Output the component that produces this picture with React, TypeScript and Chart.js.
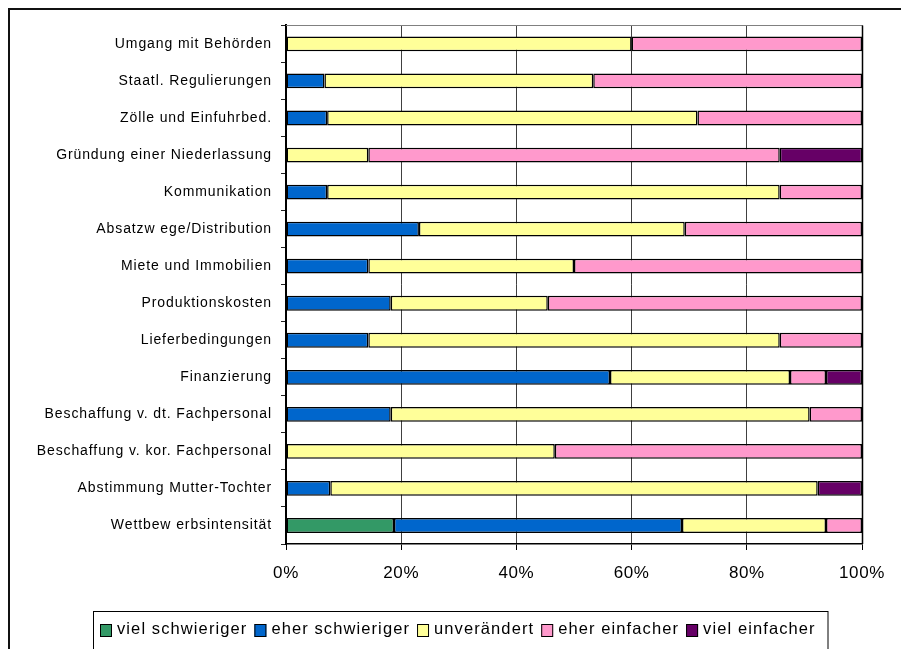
import React, { useEffect, useRef } from "react";
import { Chart, registerables } from "chart.js";

Chart.register(...registerables);

const categories = [
  "Umgang mit Behörden",
  "Staatl. Regulierungen",
  "Zölle und Einfuhrbed.",
  "Gründung einer Niederlassung",
  "Kommunikation",
  "Absatzw ege/Distribution",
  "Miete und Immobilien",
  "Produktionskosten",
  "Lieferbedingungen",
  "Finanzierung",
  "Beschaffung v. dt. Fachpersonal",
  "Beschaffung v. kor. Fachpersonal",
  "Abstimmung Mutter-Tochter",
  "Wettbew erbsintensität",
];

const vielSchwieriger = [0, 0, 0, 0, 0, 0, 0, 0, 0, 0, 0, 0, 0, 18.75];
const eherSchwieriger = [0, 6.67, 7.14, 0, 7.14, 23.08, 14.29, 18.18, 14.29, 56.25, 18.18, 0, 7.69, 50];
const unveraendert = [60, 46.67, 64.29, 14.29, 78.57, 46.15, 35.71, 27.27, 71.43, 31.25, 72.73, 46.67, 84.62, 25];
const eherEinfacher = [40, 46.67, 28.57, 71.43, 14.29, 30.77, 50, 54.55, 14.29, 6.25, 9.09, 53.33, 0, 6.25];
const vielEinfacher = [0, 0, 0, 14.29, 0, 0, 0, 0, 0, 6.25, 0, 0, 7.69, 0];

const seriesLabels = ["viel schwieriger", "eher schwieriger", "unverändert", "eher einfacher", "viel einfacher"];
const seriesColors = ["#339966", "#0066CC", "#FFFF99", "#FF99CC", "#660066"];
const xTicks = [0, 20, 40, 60, 80, 100];

const FONT = "'Liberation Sans', Arial, sans-serif";
const Y_SPACING = "0.9px";
const X_SPACING = "0.6px";
const LEGEND_SPACING = "1.1px";

const spacingPlugin = {
  id: "spacing",
  beforeUpdate(chart: any) {
    chart.ctx.letterSpacing = Y_SPACING;
  },
  afterLayout(chart: any) {
    const patch = (scale: any, sp: string) => {
      if (!scale || scale.__patched) return;
      const orig = scale.drawLabels;
      scale.drawLabels = function (area: any) {
        const ctx = this.ctx;
        const prev = ctx.letterSpacing;
        ctx.letterSpacing = sp;
        orig.call(this, area);
        ctx.letterSpacing = prev;
      };
      scale.__patched = true;
    };
    patch(chart.scales.x, X_SPACING);
    patch(chart.scales.y, Y_SPACING);
  },
  beforeDraw(chart: any) {
    const ctx = chart.ctx;
    ctx.save();
    ctx.fillStyle = "#fff";
    ctx.fillRect(0, 0, chart.width, chart.height);
    ctx.restore();
  },
};

const framePlugin = {
  id: "frame",
  afterDraw(chart: any) {
    const ctx = chart.ctx;
    const a = chart.chartArea;
    ctx.save();
    // outer chart border
    ctx.fillStyle = "#111";
    ctx.fillRect(0, 0, chart.width, 2);
    ctx.fillRect(0, 0, 2, chart.height);
    // plot area top / right border
    ctx.lineWidth = 1;
    ctx.strokeStyle = "#808080";
    ctx.beginPath();
    ctx.moveTo(a.left, Math.round(a.top) + 0.5);
    ctx.lineTo(a.right, Math.round(a.top) + 0.5);
    ctx.stroke();
    ctx.strokeStyle = "#000";
    ctx.lineWidth = 1.5;
    ctx.beginPath();
    ctx.moveTo(a.right + 0.5, a.top);
    ctx.lineTo(a.right + 0.5, a.bottom);
    ctx.stroke();
    // legend
    ctx.letterSpacing = LEGEND_SPACING;
    ctx.lineWidth = 1;
    ctx.strokeStyle = "#000";
    ctx.strokeRect(85.5, 603.5, 734.5, 80);
    ctx.font = `16.5px ${FONT}`;
    ctx.textBaseline = "alphabetic";
    ctx.textAlign = "left";
    let x = 92;
    chart.data.datasets.forEach((ds: any) => {
      ctx.fillStyle = ds.backgroundColor;
      ctx.fillRect(x, 616, 12, 13);
      ctx.strokeRect(x + 0.5, 616.5, 11, 12);
      ctx.fillStyle = "#000";
      ctx.fillText(ds.label, x + 17, 625.5);
      x += 17 + ctx.measureText(ds.label).width + 7;
    });
    ctx.restore();
  },
};

export default function App() {
  const ref = useRef<HTMLCanvasElement>(null);

  useEffect(() => {
    const series = [vielSchwieriger, eherSchwieriger, unveraendert, eherEinfacher, vielEinfacher];
    const chart = new Chart(ref.current as HTMLCanvasElement, {
      type: "bar",
      data: {
        labels: categories,
        datasets: series.map((d, i) => ({
          label: seriesLabels[i],
          data: d,
          backgroundColor: seriesColors[i],
          borderColor: "#000",
          borderWidth: 1.5,
          borderSkipped: false,
          barPercentage: 0.4,
          categoryPercentage: 1,
        })),
      },
      options: {
        indexAxis: "y",
        responsive: false,
        animation: false,
        events: [],
        layout: { padding: { left: 10, right: 39, top: 16, bottom: 65 } },
        plugins: {
          legend: { display: false },
          tooltip: { enabled: false },
        },
        scales: {
          x: {
            type: "linear",
            stacked: true,
            min: 0,
            max: 100,
            position: "bottom",
            afterBuildTicks: (s: any) => {
              s.ticks = xTicks.map((v) => ({ value: v }));
            },
            ticks: {
              callback: (v: any) => v + "%",
              font: { size: 17, family: FONT },
              color: "#000",
              padding: 13,
              maxRotation: 0,
              autoSkip: false,
            },
            grid: { color: "#404040", lineWidth: 1, tickLength: 6, tickColor: "#000" },
            border: { display: true, color: "#000", width: 1.5 },
            afterFit: (s: any) => {
              s.height = 40;
            },
          },
          y: {
            type: "category",
            stacked: true,
            ticks: {
              font: { size: 14, family: FONT },
              color: "#000",
              padding: 9,
              autoSkip: false,
            },
            grid: { drawOnChartArea: false, tickLength: 5, color: "#222", offset: true },
            border: { display: true, color: "#000", width: 2 },
            afterFit: (s: any) => {
              s.width = 268;
            },
          },
        },
      } as any,
      plugins: [spacingPlugin, framePlugin],
    });
    return () => chart.destroy();
  }, []);

  return (
    <div style={{ position: "absolute", left: 8, top: 8, width: 893, height: 641 }}>
      <canvas ref={ref} width={893} height={641} style={{ display: "block" }} />
    </div>
  );
}
